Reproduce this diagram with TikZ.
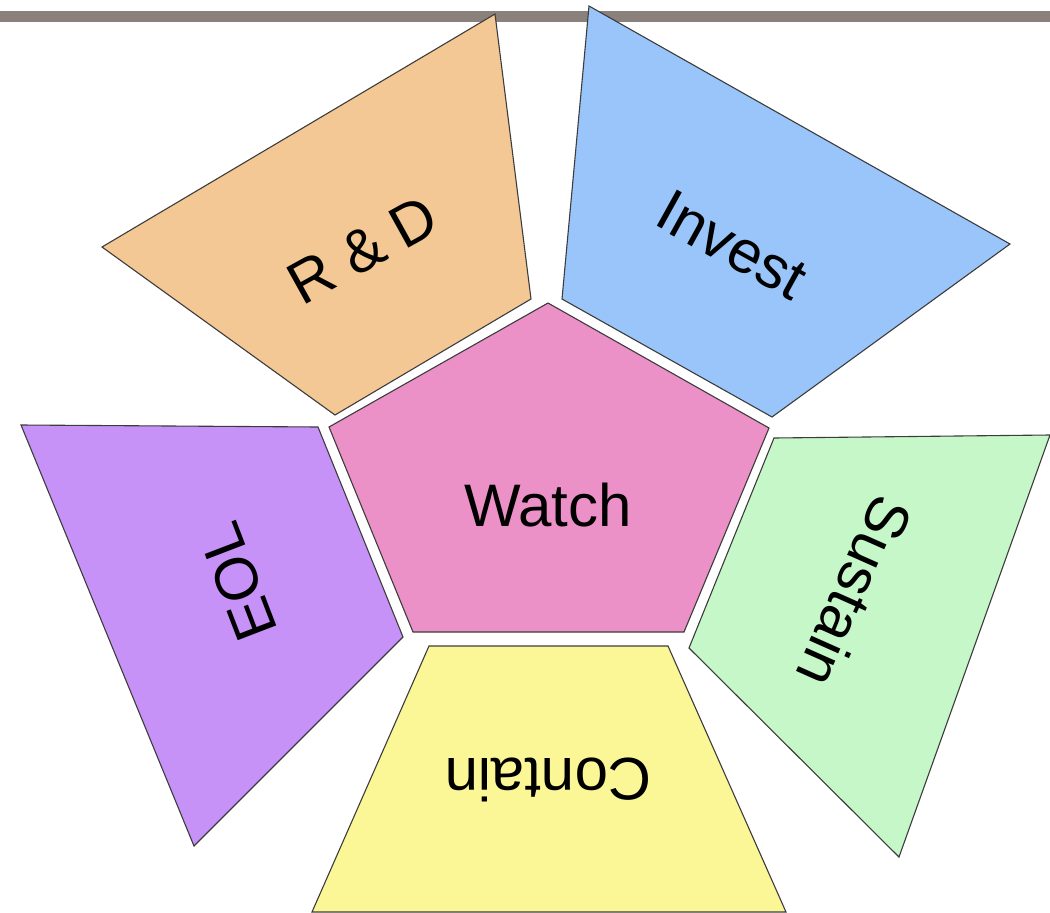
\documentclass[tikz,border=0pt]{standalone}
\usepackage{fontspec}
\setmainfont{Liberation Sans}
\definecolor{barC}{RGB}{139,129,124}
\definecolor{rdC}{RGB}{244,200,148}
\definecolor{invC}{RGB}{153,197,250}
\definecolor{watchC}{RGB}{236,144,200}
\definecolor{eolC}{RGB}{199,146,248}
\definecolor{susC}{RGB}{198,247,200}
\definecolor{conC}{RGB}{252,247,150}
\definecolor{edgeC}{RGB}{60,60,60}
\tikzset{
  panel/.style={draw=edgeC, line width=1.1pt, line join=miter},
  lbl/.style={inner sep=0pt, font=\fontsize{60}{72}\selectfont, text=black}
}
\begin{document}
\begin{tikzpicture}[x=1pt,y=-1pt]
\useasboundingbox (0,0) rectangle (1050,913);
% top bar
\fill[barC] (0,11) rectangle (1050,22);
% R & D
\filldraw[panel, fill=rdC] (495,14) -- (531,299) -- (335,415) -- (102,247) -- cycle;
% Invest
\filldraw[panel, fill=invC] (589,6) -- (1010,244) -- (772,417) -- (562,299) -- cycle;
% EOL
\filldraw[panel, fill=eolC] (21,425) -- (318,427) -- (403,637) -- (194,846) -- cycle;
% Sustain
\filldraw[panel, fill=susC] (774,438) -- (1050,435) -- (899,857) -- (689,648) -- cycle;
% Contain
\filldraw[panel, fill=conC] (429,646) -- (668,646) -- (786,912) -- (312,912) -- cycle;
% Watch
\filldraw[panel, fill=watchC] (548,303) -- (769,428) -- (684,632) -- (413,632) -- (329,427) -- cycle;
% labels
\node[lbl] (watch) at (548,505) {Watch};
\node[lbl, rotate=29] (rd) at (363,250) {R \& D};
\node[lbl, rotate=-29] (invest) at (732,245) {Invest};
\node[lbl, rotate=-114] (sustain) at (855,592) {Sustain};
\node[lbl, rotate=180] (contain) at (548,780) {Contain};
\node[lbl, rotate=111] (eol) at (238,582) {EOL};
\end{tikzpicture}
\end{document}
